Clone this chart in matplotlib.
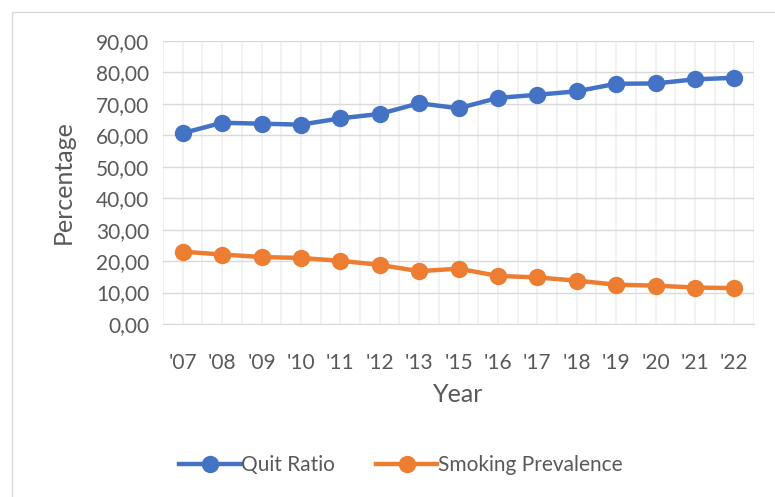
import numpy as np
import matplotlib.pyplot as plt
from matplotlib.patches import Rectangle
from matplotlib.ticker import FuncFormatter

years = ["'07", "'08", "'09", "'10", "'11", "'12", "'13", "'15",
         "'16", "'17", "'18", "'19", "'20", "'21", "'22"]
quit_ratio = [60.7, 64.0, 63.7, 63.4, 65.4, 66.8, 70.2, 68.6,
              71.9, 72.9, 74.0, 76.4, 76.5, 77.8, 78.3]
smoking_prev = [23.0, 22.1, 21.3, 21.0, 20.1, 18.8, 16.8, 17.6,
                15.3, 14.8, 13.8, 12.5, 12.2, 11.6, 11.4]

plt.rcParams['font.family'] = ['Lato', 'DejaVu Sans']
txt = '#595959'

fig = plt.figure(figsize=(7.75, 4.97), dpi=100)
fig.patches.append(Rectangle((12 / 775, -0.1), 1.2, (497 - 12) / 497 + 0.1,
                             transform=fig.transFigure, fill=False,
                             edgecolor='#d9d9d9', linewidth=1))
ax = fig.add_axes([163 / 775, (497 - 324) / 497, 591 / 775, 283 / 497])

x = np.arange(len(years))
ax.plot(x, quit_ratio, color='#4472C4', lw=3.2, marker='o', ms=11.5,
        label='Quit Ratio', zorder=3)
ax.plot(x, smoking_prev, color='#ED7D31', lw=3.2, marker='o', ms=11.5,
        label='Smoking Prevalence', zorder=3)

ax.set_xlim(-0.5, len(years) - 0.5)
ax.set_ylim(0, 90)
ax.set_yticks(np.arange(0, 91, 10))
ax.yaxis.set_major_formatter(FuncFormatter(lambda v, p: f'{v:.2f}'.replace('.', ',')))
ax.set_xticks(x)
ax.set_xticklabels(years)
ax.set_xticks(np.arange(-0.5, len(years), 1), minor=True)

ax.grid(axis='y', color='#d9d9d9', lw=1)
ax.grid(axis='x', which='both', color='#f0f0f0', lw=1.2)
ax.set_axisbelow(True)
for s in ['top', 'right', 'left']:
    ax.spines[s].set_visible(False)
ax.spines['bottom'].set_color('#d9d9d9')
ax.tick_params(length=0, which='both', labelsize=15, colors=txt)
ax.tick_params(axis='x', pad=21)
ax.tick_params(axis='y', pad=10)

ax.set_xlabel('Year', fontsize=18, color=txt, va='center')
ax.set_ylabel('Percentage', fontsize=18, color=txt, va='center')
ax.xaxis.set_label_coords(0.5, (324 - 395) / 283)
ax.yaxis.set_label_coords((63 - 163) / 591, 0.5)

leg = fig.legend(loc='center', bbox_to_anchor=(401 / 775, 1 - 465 / 497),
                 ncol=2, frameon=False, fontsize=15, handlelength=2.9,
                 handletextpad=0.05, columnspacing=2.0, labelcolor=txt)

fig.savefig('out.png', dpi=100)
